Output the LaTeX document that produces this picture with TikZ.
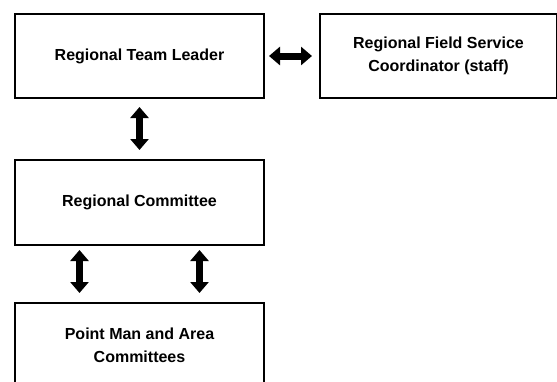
\documentclass[tikz,border=0pt]{standalone}
\usepackage{fontspec}
\setmainfont{Liberation Sans}
\usetikzlibrary{positioning,arrows.meta}
\tikzset{
  box/.style={draw, line width=2pt, minimum width=249pt, minimum height=84pt,
    align=center, font=\fontsize{16}{23}\selectfont\bfseries},
  link/.style={{Triangle[width=18pt,length=11pt]}-{Triangle[width=18pt,length=11pt]},
    line width=7pt},
}
\begin{document}
\begin{tikzpicture}[x=1pt,y=-1pt]
  \clip (0,0) rectangle (557,381);
  \node[box] (rtl) at (139.5,56) {Regional Team Leader};
  \node[box, minimum width=237pt] (rfsc) [right=54pt of rtl] {Regional Field Service\\Coordinator (staff)};
  \node[box, minimum height=85pt] (rc) [below=60pt of rtl] {Regional Committee};
  \node[box] (pm) [below=56pt of rc] {Point Man and Area\\Committees};
  % connectors
  \draw[link, shorten <=4pt, shorten >=7pt] (rtl.east) -- (rfsc.west);
  \draw[link, shorten <=8pt, shorten >=9pt] (rtl.south) -- (rtl.south |- rc.north);
  \draw[link, shorten <=4pt, shorten >=9pt] ([xshift=-60pt]rc.south) -- ([xshift=-60pt]rc.south |- pm.north);
  \draw[link, shorten <=4pt, shorten >=9pt] ([xshift=60pt]rc.south) -- ([xshift=60pt]rc.south |- pm.north);
\end{tikzpicture}
\end{document}
